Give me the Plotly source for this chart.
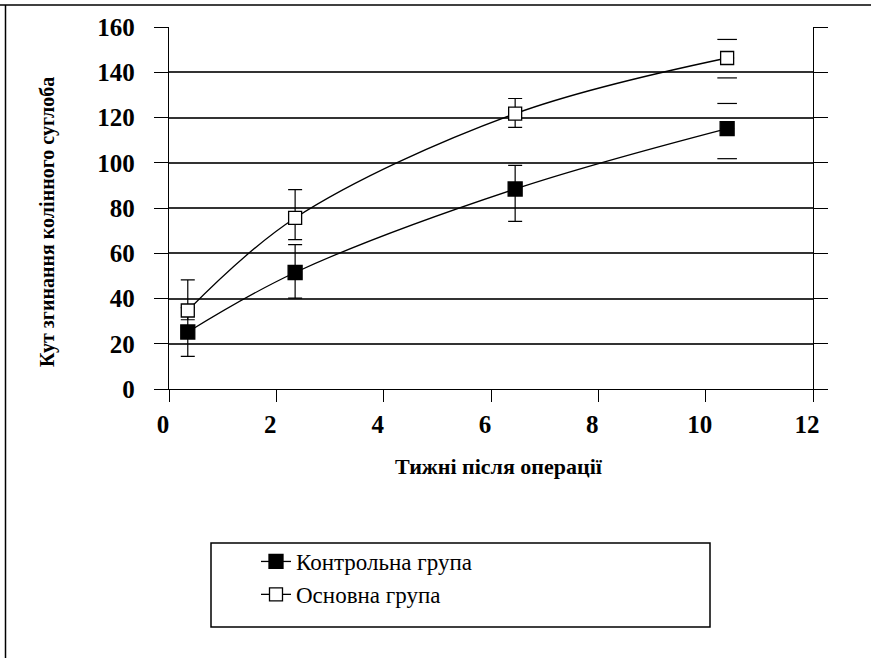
import plotly.graph_objects as go

# ---- data ----
weeks = [0.35, 2.35, 6.45, 10.4]
control_mean = [25.2, 51.5, 88.4, 115.1]
control_err_plus = [10.8, 12.3, 10.4, 11.1]
control_err_minus = [10.8, 11.3, 14.3, 13.3]
main_mean = [34.7, 75.6, 121.7, 146.3]
main_err_plus = [13.5, 12.5, 6.7, 8.2]
main_err_minus = [4.1, 9.6, 6.1, 8.8]
y_ticks = [0, 20, 40, 60, 80, 100, 120, 140, 160]
x_ticks = [0, 2, 4, 6, 8, 10, 12]
series_names = ["Контрольна група", "Основна група"]

W, H = 871, 658
L, R, T, B = 169, 58, 27, 269
PW, PH = W - L - R, H - T - B


def px(x):
    return (x - L) / PW


def py(y):
    return (H - B - y) / PH


SERIF = "Liberation Serif"

fig = go.Figure()


def add_series(name, mean, ep, em, filled):
    n = len(mean)
    ep_bar = [ep[i] if i < n - 1 else float("nan") for i in range(n)]
    em_bar = [em[i] if i < n - 1 else float("nan") for i in range(n)]
    fig.add_trace(go.Scatter(
        x=weeks, y=mean, name=name, mode="lines+markers",
        line=dict(color="black", width=1.3, shape="spline", smoothing=1.0),
        marker=dict(symbol="square",
                    size=14 if filled else 13,
                    color="black" if filled else "white",
                    line=dict(color="black", width=1.3)),
        error_y=dict(type="data", symmetric=False, array=ep_bar, arrayminus=em_bar,
                     color="black", thickness=1.2, width=7),
        showlegend=True,
    ))
    fig.add_trace(go.Scatter(
        x=[weeks[-1], weeks[-1]], y=[mean[-1] + ep[-1], mean[-1] - em[-1]],
        mode="markers", showlegend=False, hoverinfo="skip",
        marker=dict(symbol="line-ew", size=14, line=dict(color="black", width=1.2)),
    ))


add_series(series_names[0], control_mean, control_err_plus, control_err_minus, True)
add_series(series_names[1], main_mean, main_err_plus, main_err_minus, False)

shapes = [
    dict(type="line", xref="paper", yref="paper", x0=px(0), x1=px(W), y0=py(5), y1=py(5),
         line=dict(color="black", width=1.5)),
    dict(type="line", xref="paper", yref="paper", x0=px(5.5), x1=px(5.5), y0=py(5), y1=py(H),
         line=dict(color="black", width=1.5)),
    dict(type="rect", xref="paper", yref="paper", x0=px(211), x1=px(710), y0=py(543), y1=py(627),
         line=dict(color="black", width=1.5), fillcolor="rgba(0,0,0,0)"),
]

annotations = [
    dict(text="Кут згинання колінного суглоба", xref="paper", yref="paper",
         x=px(47), y=py(222), textangle=-90, showarrow=False,
         font=dict(family=SERIF, size=20, color="black", weight="bold"),
         xanchor="center", yanchor="middle"),
    dict(text="Тижні після операції", xref="paper", yref="paper",
         x=px(499), y=py(466), showarrow=False,
         font=dict(family=SERIF, size=22, color="black", weight="bold"),
         xanchor="center", yanchor="middle"),
]

fig.update_layout(
    width=W, height=H,
    margin=dict(l=L, r=R, t=T, b=B, pad=0),
    paper_bgcolor="white", plot_bgcolor="white",
    font=dict(family=SERIF, color="black"),
    shapes=shapes, annotations=annotations,
    showlegend=True,
    legend=dict(x=px(256), y=py(540), xanchor="left", yanchor="top",
                bgcolor="rgba(0,0,0,0)", borderwidth=0,
                font=dict(family=SERIF, size=23, color="black"),
                tracegroupgap=0),
    xaxis=dict(range=[0, 12], tickvals=x_ticks, ticktext=[str(v) for v in x_ticks],
               showgrid=False, zeroline=False, showline=True, linecolor="black", linewidth=1.3,
               ticks="outside", ticklen=12, tickwidth=1.3, tickcolor="black",
               ticklabelstandoff=1, ticklabelshift=-6,
               tickfont=dict(family=SERIF, size=25, color="black", weight="bold")),
    yaxis=dict(range=[0, 160], tickvals=y_ticks, ticktext=[str(v) for v in y_ticks],
               showgrid=True, gridcolor="#333333", gridwidth=1.5, zeroline=False,
               showline=True, linecolor="black", linewidth=1.3, mirror="ticks",
               ticks="outside", ticklen=14, tickwidth=1.3, tickcolor="black",
               ticklabelstandoff=14,
               tickfont=dict(family=SERIF, size=25, color="black", weight="bold")),
)

fig.write_html("out.html", config={"displayModeBar": False},
               post_script="document.body.style.margin='0';document.body.style.padding='0';")
